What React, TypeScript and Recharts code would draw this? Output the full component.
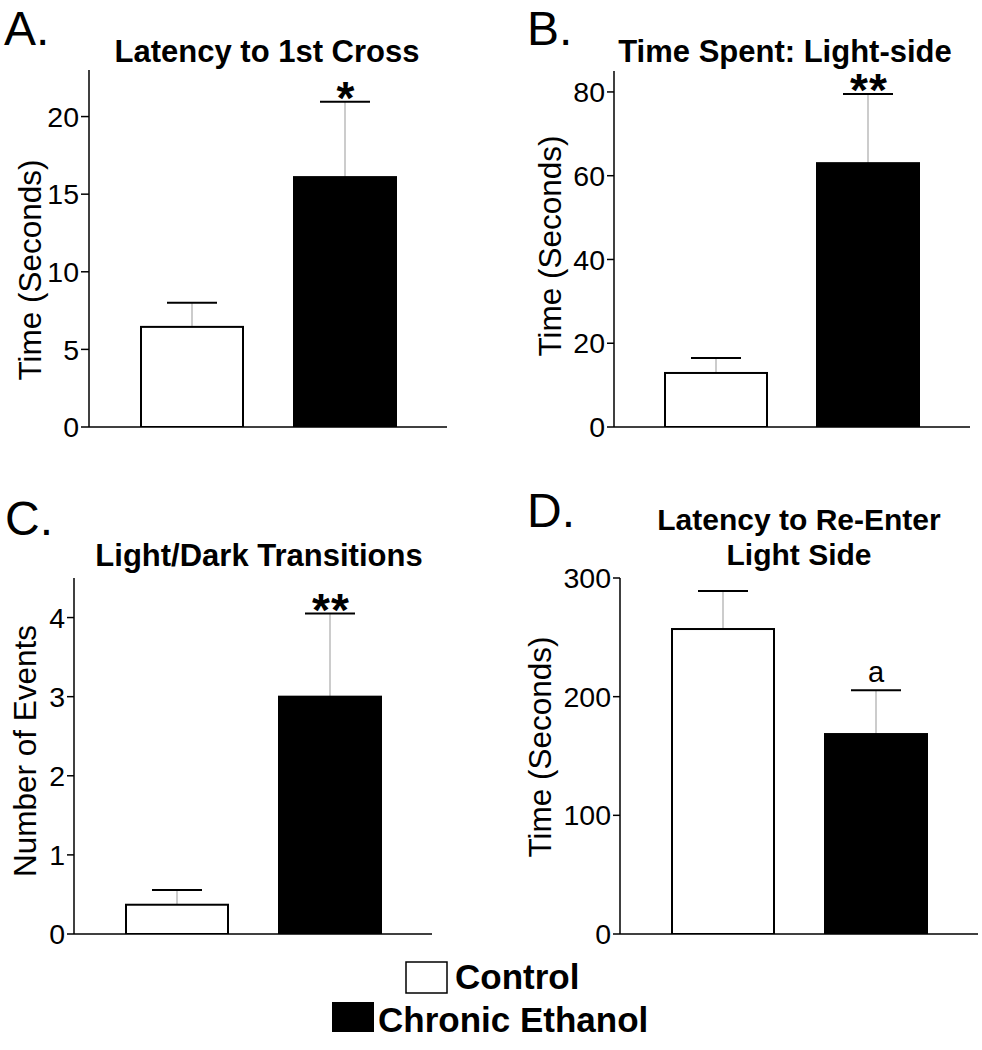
import { BarChart, Bar, XAxis, YAxis, Cell, ReferenceLine } from 'recharts';

const groups = ['Control', 'Chronic Ethanol'];
const groupFills = ['#ffffff', '#000000'];

const latencyMean = [6.45, 16.1];
const latencySem = [1.55, 4.85];
const latencyMarks = ['', '*'];

const lightTimeMean = [12.9, 63.0];
const lightTimeSem = [3.6, 16.5];
const lightTimeMarks = ['', '**'];

const transitionsMean = [0.37, 3.0];
const transitionsSem = [0.185, 1.05];
const transitionsMarks = ['', '**'];

const reenterMean = [257, 168.5];
const reenterSem = [32, 37];
const reenterMarks = ['', 'a'];

const font = '"Liberation Sans", Arial, Helvetica, sans-serif';

const makeRows = (mean: number[], sem: number[], marks: string[]) =>
  groups.map((g, i) => ({ group: g, mean: mean[i], sem: sem[i], mark: marks[i] }));

// bar with a one-sided SEM whisker and significance mark on top
const SemBar = (props: any) => {
  const { x, y, width, height, payload, fill } = props;
  const perUnit = height / payload.mean;
  const capY = y - payload.sem * perUnit;
  const cx = x + width / 2;
  const isLetter = payload.mark === 'a';
  return (
    <g>
      <line x1={cx} x2={cx} y1={y} y2={capY} stroke="#999" strokeWidth={1} />
      <rect x={x} y={y} width={width} height={height} fill={fill} stroke="#000" strokeWidth={2} />
      <line x1={cx - 25} x2={cx + 25} y1={capY} y2={capY} stroke="#000" strokeWidth={2} />
      {payload.mark ? (
        <text
          x={cx + (isLetter ? 0 : 1)}
          y={isLetter ? capY - 8 : capY + 12}
          textAnchor="middle"
          fontSize={isLetter ? 29 : 46}
          fontWeight={isLetter ? 400 : 700}
          fill="#000"
          fontFamily={font}
          letterSpacing={isLetter ? 0 : 1}
        >
          {payload.mark}
        </text>
      ) : null}
    </g>
  );
};

type PanelProps = {
  left: number;
  top: number;
  width: number;
  height: number;
  axisX: number;
  plotTop: number;
  plotBottom: number;
  plotRight: number;
  rows: any[];
  domain: [number, number];
  ticks: number[];
  letter: string;
  letterX: number;
  letterY: number;
  titleLines: string[];
  titleX: number;
  titleY: number;
  titleSize: number;
  titleGap: number;
  yLabel: string;
  yLabelX: number;
  yLabelY: number;
  tickSize: number;
};

const Panel = (p: PanelProps) => {
  return (
    <div style={{ position: 'absolute', left: p.left, top: p.top, width: p.width, height: p.height }}>
      <BarChart
        width={p.width}
        height={p.height}
        data={p.rows}
        margin={{ top: p.plotTop, right: p.width - p.plotRight, bottom: p.height - p.plotBottom, left: 0 }}
        barSize={102}
        style={{ fontFamily: font }}
      >
        <XAxis dataKey="group" hide padding={{ left: 26, right: 26 }} />
        <YAxis
          width={p.axisX}
          domain={p.domain}
          ticks={p.ticks}
          allowDataOverflow
          axisLine={{ stroke: '#000', strokeWidth: 1.5 }}
          tickLine={{ stroke: '#000', strokeWidth: 1.5 }}
          tickSize={p.tickSize}
          tickMargin={2}
          tick={{ fill: '#000', fontSize: 28.5, fontFamily: font }}
          label={{
            content: () => (
              <text
                x={p.yLabelX}
                y={p.yLabelY}
                transform={`rotate(-90 ${p.yLabelX} ${p.yLabelY})`}
                textAnchor="middle"
                dominantBaseline="central"
                fontSize={31.5}
                fontFamily={font}
                fill="#000"
              >
                {p.yLabel}
              </text>
            ),
          }}
        />
        <Bar dataKey="mean" isAnimationActive={false} shape={SemBar}>
          {p.rows.map((r, i) => (
            <Cell key={r.group} fill={groupFills[i]} />
          ))}
        </Bar>
        <ReferenceLine y={0} stroke="#000" strokeWidth={1.5} />
        <text x={p.letterX} y={p.letterY} fontSize={48} fontFamily={font} fill="#000">
          {p.letter}
        </text>
        {p.titleLines.map((t, i) => (
          <text
            key={t}
            x={p.titleX}
            y={p.titleY + i * p.titleGap}
            textAnchor="middle"
            fontSize={p.titleSize}
            fontWeight={700}
            fontFamily={font}
            fill="#000"
          >
            {t}
          </text>
        ))}
      </BarChart>
    </div>
  );
};

const App = () => {
  return (
    <div
      style={{
        position: 'absolute',
        left: 0,
        top: 0,
        width: 982,
        height: 1050,
        background: '#fff',
        fontFamily: font,
      }}
    >
      <Panel
        left={0}
        top={0}
        width={490}
        height={450}
        axisX={89}
        plotTop={70}
        plotBottom={427}
        plotRight={447}
        rows={makeRows(latencyMean, latencySem, latencyMarks)}
        domain={[0, 23]}
        ticks={[0, 5, 10, 15, 20]}
        letter="A."
        letterX={4}
        letterY={45}
        titleLines={['Latency to 1st Cross']}
        titleX={267}
        titleY={62}
        titleSize={31}
        titleGap={0}
        yLabel="Time (Seconds)"
        yLabelX={30}
        yLabelY={270}
        tickSize={8}
      />
      <Panel
        left={490}
        top={0}
        width={492}
        height={450}
        axisX={124}
        plotTop={71}
        plotBottom={427}
        plotRight={480}
        rows={makeRows(lightTimeMean, lightTimeSem, lightTimeMarks)}
        domain={[0, 85]}
        ticks={[0, 20, 40, 60, 80]}
        letter="B."
        letterX={37}
        letterY={45}
        titleLines={['Time Spent: Light-side']}
        titleX={295}
        titleY={62}
        titleSize={31}
        titleGap={0}
        yLabel="Time (Seconds)"
        yLabelX={60}
        yLabelY={246}
        tickSize={7}
      />
      <Panel
        left={0}
        top={480}
        width={490}
        height={480}
        axisX={74}
        plotTop={98}
        plotBottom={454}
        plotRight={432}
        rows={makeRows(transitionsMean, transitionsSem, transitionsMarks)}
        domain={[0, 4.5]}
        ticks={[0, 1, 2, 3, 4]}
        letter="C."
        letterX={5}
        letterY={55}
        titleLines={['Light/Dark Transitions']}
        titleX={259}
        titleY={86}
        titleSize={31}
        titleGap={0}
        yLabel="Number of Events"
        yLabelX={25}
        yLabelY={271}
        tickSize={7}
      />
      <Panel
        left={490}
        top={480}
        width={492}
        height={480}
        axisX={130}
        plotTop={98}
        plotBottom={454}
        plotRight={488}
        rows={makeRows(reenterMean, reenterSem, reenterMarks)}
        domain={[0, 300]}
        ticks={[0, 100, 200, 300]}
        letter="D."
        letterX={37}
        letterY={47}
        titleLines={['Latency to Re-Enter', 'Light Side']}
        titleX={309}
        titleY={50}
        titleSize={30}
        titleGap={35}
        yLabel="Time (Seconds)"
        yLabelX={50}
        yLabelY={267}
        tickSize={7}
      />
      <svg width={982} height={90} style={{ position: 'absolute', left: 0, top: 955 }}>
        <rect x={406} y={7} width={41} height={31} fill="#fff" stroke="#000" strokeWidth={1.5} />
        <text x={455} y={34} fontSize={35} fontWeight={700} fontFamily={font} fill="#000">
          {groups[0]}
        </text>
        <rect x={332} y={47} width={42} height={30} fill="#000" />
        <text x={378} y={77} fontSize={35} fontWeight={700} fontFamily={font} fill="#000">
          {groups[1]}
        </text>
      </svg>
    </div>
  );
};

export default App;
